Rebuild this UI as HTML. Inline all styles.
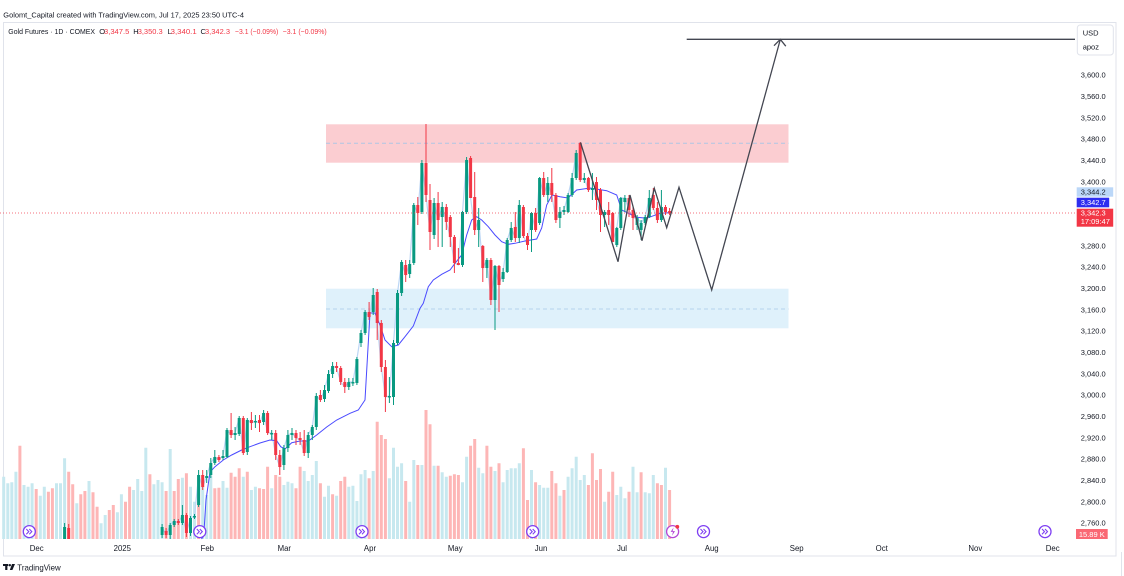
<!DOCTYPE html>
<html><head><meta charset="utf-8"><style>
html,body{margin:0;padding:0;background:#fff;}
svg{display:block;font-family:"Liberation Sans",sans-serif;}
</style></head><body>
<svg width="1124" height="576" viewBox="0 0 1124 576" xmlns="http://www.w3.org/2000/svg">
<rect width="1124" height="576" fill="#fff"/>
<!-- header -->
<text x="3.3" y="17.5" font-size="7.5" fill="#131722" textLength="240.7" lengthAdjust="spacingAndGlyphs">Golomt_Capital created with TradingView.com, Jul 17, 2025 23:50 UTC-4</text>
<!-- frame -->
<rect x="3.5" y="22.5" width="1112.5" height="533.5" fill="none" stroke="#e0e3eb" stroke-width="1"/>
<line x1="1121.5" y1="552" x2="1121.5" y2="576" stroke="#e0e3eb"/>
<!-- zones -->
<rect x="326" y="124.3" width="462.5" height="38.4" fill="#fbcdd1"/>
<line x1="326" y1="143.3" x2="788.5" y2="143.3" stroke="#aec6e4" stroke-width="1" stroke-dasharray="4 3"/>
<rect x="326" y="288.7" width="462.5" height="39.6" fill="#dff1fb"/>
<line x1="326" y1="309" x2="788.5" y2="309" stroke="#b4d3ee" stroke-width="1" stroke-dasharray="4 3"/>
<!-- volume -->
<path fill="none" stroke="#c7e8ef" stroke-width="3" d="M3.7 539V476.7M7.8 539V483.3M11.8 539V482.3M15.9 539V471.7M24 539V485M28.1 539V486.7M32.1 539V483.3M40.3 539V495.7M44.3 539V486.7M56.5 539V483.3M60.5 539V483.3M64.6 539V458.3M76.8 539V503.3M89 539V481M101.1 539V523.3M105.2 539V515M117.4 539V512.3M121.4 539V494.3M133.6 539V490M137.7 539V479M141.8 539V491M145.8 539V447.7M153.9 539V484.3M158 539V480M162.1 539V482.3M170.2 539V449M182.4 539V477.7M190.5 539V486.7M194.5 539V501.7M202.7 539V486.7M206.7 539V495M210.8 539V475.7M223 539V481M227 539V487.7M243.3 539V476.7M251.4 539V490M255.4 539V486.7M271.7 539V488.3M283.9 539V485M287.9 539V481.7M292 539V483.3M304.2 539V471M308.2 539V481M312.3 539V475M316.3 539V461M324.5 539V496.7M328.5 539V485.7M336.6 539V495.7M348.8 539V486.7M352.9 539V485.7M356.9 539V501M361 539V474.3M365.1 539V470M373.2 539V471M389.4 539V478.3M393.5 539V447.7M397.5 539V466.7M401.6 539V463.3M409.7 539V501.7M413.8 539V460M421.9 539V465M434.1 539V465.7M442.2 539V472.3M446.3 539V476.7M462.5 539V482.3M466.6 539V456.7M478.7 539V467.7M482.8 539V473.3M495 539V471M503.1 539V482.3M507.2 539V470M511.2 539V468.3M515.3 539V468.3M519.3 539V463.3M531.5 539V470M539.6 539V485M543.7 539V487.7M547.8 539V487.7M559.9 539V495.7M568.1 539V476.7M572.1 539V468.3M576.2 539V456.7M580.2 539V480M584.3 539V475M604.6 539V501.7M616.8 539V495M620.8 539V486.7M624.9 539V498.3M633 539V466.7M637.1 539V492.3M645.2 539V492.3M649.3 539V493.3M653.3 539V475M665.5 539V467.7"/>
<path fill="none" stroke="#fdb6b6" stroke-width="3" d="M19.9 539V445.7M36.2 539V489M48.4 539V491.7M52.4 539V488.3M68.7 539V471.7M72.7 539V484.3M80.8 539V494.3M84.9 539V491M93 539V492.3M97.1 539V506.7M109.3 539V510M113.3 539V505M125.5 539V501.7M129.6 539V486.7M149.9 539V474.3M166.1 539V491M174.2 539V491M178.3 539V479M186.4 539V473.3M198.6 539V475M214.8 539V488.3M218.9 539V487.7M231.1 539V472.7M235.1 539V476.7M239.2 539V468.3M247.3 539V471.7M259.5 539V488.3M263.6 539V489M267.6 539V466.7M275.7 539V475M279.8 539V476.7M296 539V488.3M300.1 539V466.7M320.4 539V483.3M332.6 539V494.3M340.7 539V481M344.8 539V476.7M369.1 539V478.3M377.2 539V421.7M381.3 539V435M385.4 539V439M405.7 539V481M417.8 539V465M426 539V410M430 539V424.3M438.1 539V465.7M450.3 539V475.7M454.4 539V474.3M458.4 539V475M470.6 539V445.7M474.7 539V439M486.9 539V445.7M490.9 539V466.7M499 539V463.3M523.4 539V448.3M527.5 539V500M535.6 539V482.3M551.8 539V471M555.9 539V483.3M564 539V490M588.4 539V485M592.4 539V453.3M596.5 539V480M600.5 539V469M608.7 539V491.7M612.7 539V471.7M629 539V491.7M641.1 539V472.3M657.4 539V483.3M661.4 539V485M669.6 539V490"/>
<!-- close line (faint) -->
<polyline fill="none" stroke="#bcd6f5" stroke-width="1.2" points="162.1,527 166.1,535 170.2,525 174.2,521 178.3,523 182.4,515 186.4,533 190.5,518 194.5,516 198.6,475 202.7,487 206.7,476 210.8,463 214.8,457 218.9,460 223,456 227,430 231.1,435 235.1,433 239.2,418 243.3,453 247.3,420 251.4,423 255.4,421 259.5,423 263.6,413 267.6,433 271.7,433 275.7,455 279.8,467 283.9,448 287.9,435 292,433 296,438 300.1,440 304.2,453 308.2,435 312.3,427 316.3,396 320.4,400 324.5,390 328.5,374 332.6,366 336.6,368 340.7,382 344.8,387 348.8,382 352.9,382 356.9,359 361,333 365.1,312 369.1,317 373.2,295 377.2,323 381.3,367 385.4,397 389.4,396 393.5,343 397.5,293 401.6,262 405.7,275 409.7,264 413.8,205 417.8,213 421.9,163 426,195 430,232 434.1,203 438.1,220 442.2,207 446.3,222 450.3,237 454.4,263 458.4,265 462.5,212 466.6,160 470.6,198 474.7,230 478.7,220 482.8,268 486.9,260 490.9,300 495,266 499,285 503.1,272 507.2,240 511.2,228 515.3,238 519.3,205 523.4,236 527.5,245 531.5,213 535.6,230 539.6,178 543.7,195 547.8,183 551.8,195 555.9,220 559.9,212 564,210 568.1,195 572.1,178 576.2,153 580.2,180 584.3,178 588.4,190 592.4,188 596.5,200 600.5,215 604.6,212 608.7,215 612.7,242 616.8,228 620.8,198 624.9,198 629,210 633,218 637.1,218 641.1,223 645.2,217 649.3,198 653.3,208 657.4,220 661.4,207 665.5,212 669.6,213.5"/>
<!-- MA -->
<polyline fill="none" stroke="#4a4aff" stroke-width="1" points="201.5,539 203.7,536 206,500 210,472 215,466.7 223.3,460 231.7,455 241.7,450 250,446.7 260,443 270,440 276.7,440.7 280.7,446.7 285,449 291.7,442.7 300,441 308.3,441 316.7,435 326.7,427 336.7,420 350,413.3 358.3,410 365,400 370,313 375,313 380,325 385,340 391.7,346.7 398.3,345 405,336.7 413.3,326 420,308.3 423.3,303.3 428.3,286.7 433.3,280 441.7,274.3 450,270 455,263.3 461.7,255 466.7,235 471.7,220 476.7,216.7 481.7,220 488.3,226.7 495,235 501.7,241.7 508.3,244.3 515,243.3 525,241 536.7,239 541.7,228 546.7,205 552,195 560,196.7 568,198 576.7,190 590,188 606.7,190.7 616.7,195 621.7,210 636.7,217.3 646.7,218.3 660,213.3 670,212.7"/>
<!-- candles green -->
<path fill="none" stroke="#089981" stroke-width="1" d="M64.6 523V539M162.1 524V538M170.2 523V539M174.2 519V527M182.4 505V525M190.5 516V536M194.5 514V519M198.6 470V507M206.7 470V483M210.8 458V478M214.8 450V465M223 450V460M227 428V458M235.1 427V440M239.2 416V436M247.3 418V455M255.4 415V428M263.6 410V425M271.7 430V440M283.9 445V470M287.9 430V452M292 428V440M308.2 432V458M312.3 425V440M316.3 393V430M324.5 385V402M328.5 370V393M332.6 362V378M348.8 378V390M352.9 378V386M356.9 357V385M361 330V347M365.1 310V335M373.2 288V315M389.4 377V403M393.5 340V405M397.5 290V345M401.6 260V296M409.7 260V278M413.8 203V265M421.9 160V214M434.1 198V239M442.2 202V247M462.5 211V267M466.6 157V214M478.7 208V247M486.9 258V278M495 265V330M503.1 268V282M507.2 238V273M511.2 222V242M519.3 200V243M531.5 212V252M539.6 177V225M547.8 177V202M559.9 207V228M564 206V215M568.1 193V213M572.1 173V197M576.2 150V180M584.3 173V183M592.4 173V200M604.6 210V227M616.8 227V247M620.8 197V230M624.9 195V212M637.1 215V230M641.1 220V240M645.2 215V225M649.3 190V218M661.4 190V222"/>
<path fill="none" stroke="#089981" stroke-width="3" d="M64.6 527V539M162.1 527V535M170.2 525V535M174.2 521V525M182.4 515V523M190.5 518V533M194.5 516V517.5M198.6 475V505M206.7 476V478M210.8 463V475M214.8 457V463M223 456V458M227 430V457M235.1 433V435M239.2 418V434M247.3 420V452M255.4 421V422.5M263.6 413V422M271.7 433V434.5M283.9 448V465M287.9 435V448M292 433V435M308.2 435V453M312.3 427V435M316.3 396V427M324.5 390V399M328.5 374V391M332.6 366V374M348.8 382V387M352.9 382V383.5M356.9 359V383M361 333V343M365.1 312V333M373.2 295V312M389.4 396V397.5M393.5 343V397M397.5 293V343M401.6 262V293M409.7 264V274M413.8 205V263M421.9 163V212M434.1 203V235M442.2 207V217M462.5 212V265M466.6 160V212M478.7 220V230M486.9 260V268M495 266V300M503.1 272V279M507.2 240V272M511.2 228V240M519.3 205V238M531.5 213V230M539.6 178V223M547.8 183V195M559.9 212V218M564 210V212M568.1 195V212M572.1 178V195M576.2 153V178M584.3 178V180M592.4 188V190M604.6 212V215M616.8 228V245M620.8 198V228M624.9 198V202M637.1 218V225M641.1 223V230M645.2 217V223M649.3 198V217M661.4 207V220"/>
<!-- candles red -->
<path fill="none" stroke="#f23645" stroke-width="1" d="M68.7 524V539M166.1 528V538M178.3 519V525M186.4 513V537M202.7 470V490M218.9 455V462M231.1 413V438M243.3 416V455M251.4 412V430M259.5 415V432M267.6 411V435M275.7 430V460M279.8 450V475M296 430V445M300.1 432V445M304.2 430V456M320.4 390V402M336.6 362V372M340.7 366V385M344.8 378V393M369.1 302V320M377.2 289V340M381.3 320V372M385.4 360V412M405.7 260V282M417.8 197V225M426 124V202M430 184V250M438.1 192V247M446.3 204V230M450.3 215V247M454.4 235V273M458.4 248V265M470.6 156V198M474.7 172V235M482.8 245V282M490.9 258V305M499 265V312M515.3 212V242M523.4 205V238M527.5 233V250M535.6 208V232M543.7 172V197M551.8 168V202M555.9 193V223M580.2 142V182M588.4 177V192M596.5 177V210M600.5 188V232M608.7 202V225M612.7 212V242M629 195V217M633 207V230M653.3 188V210M657.4 202V223M665.5 205V215M669.6 208V215"/>
<path fill="none" stroke="#f23645" stroke-width="3" d="M68.7 528V539M166.1 531V535M178.3 521V523M186.4 515V533M202.7 475V487M218.9 457V460M231.1 430V435M243.3 418V453M251.4 420V423M259.5 420V423M267.6 413V433M275.7 433V455M279.8 455V467M296 433V438M300.1 438V440M304.2 440V453M320.4 395V400M336.6 366V368M340.7 368V382M344.8 382V387M369.1 312V317M377.2 292V323M381.3 323V367M385.4 367V397M405.7 265V275M417.8 205V213M426 163V195M430 200V232M438.1 203V220M446.3 207V222M450.3 217V237M454.4 237V263M458.4 263V265M470.6 158V198M474.7 197V230M482.8 246V268M490.9 260V300M499 266V285M515.3 227V238M523.4 207V236M527.5 236V245M535.6 213V230M543.7 178V195M551.8 183V195M555.9 195V220M580.2 143V180M588.4 178V190M596.5 182V200M600.5 190V215M608.7 210V215M612.7 213V242M629 198V210M633 210V218M653.3 195V208M657.4 208V220M665.5 207V212M669.6 211V213.5"/>
<!-- price line -->
<line x1="0" y1="213" x2="1076" y2="213" stroke="#f23645" stroke-width="1" stroke-dasharray="1 2" opacity="0.7"/>
<!-- projection path -->
<polyline fill="none" stroke="#434651" stroke-width="1.3" stroke-linejoin="miter" points="580.5,142.5 618,261.7 630,195 642,240.7 654.3,188.3 666.7,227.7 679,187.3 711.7,290 780.3,39.5"/>
<path fill="none" stroke="#434651" stroke-width="1.3" d="M774 45.7L780.3 39.3L785.8 46.2"/>
<line x1="686.7" y1="39.3" x2="1075" y2="39.3" stroke="#434651" stroke-width="1.3"/>
<!-- event icons -->
<g fill="#fff" stroke="#7e3ff2" stroke-width="1.3">
<circle cx="29.3" cy="531.6" r="6"/><circle cx="199.8" cy="531.6" r="6"/><circle cx="362" cy="531.6" r="6"/><circle cx="532.7" cy="531.6" r="6"/><circle cx="703.5" cy="531.6" r="6"/><circle cx="1045" cy="531.6" r="6"/>
</g>
<g fill="none" stroke="#7e3ff2" stroke-width="1.1">
<path d="M26.3 529l2.5 2.6-2.5 2.6M29.3 529l2.5 2.6-2.5 2.6"/>
<path d="M196.8 529l2.5 2.6-2.5 2.6M199.8 529l2.5 2.6-2.5 2.6"/>
<path d="M359 529l2.5 2.6-2.5 2.6M362 529l2.5 2.6-2.5 2.6"/>
<path d="M529.7 529l2.5 2.6-2.5 2.6M532.7 529l2.5 2.6-2.5 2.6"/>
<path d="M700.5 529l2.5 2.6-2.5 2.6M703.5 529l2.5 2.6-2.5 2.6"/>
<path d="M1042 529l2.5 2.6-2.5 2.6M1045 529l2.5 2.6-2.5 2.6"/>
</g>
<circle cx="672.6" cy="531.6" r="6" fill="#fff" stroke="#b546d6" stroke-width="1.3"/>
<path d="M673.6 527.5l-3 4.4h2.4l-1 3.8 3-4.6h-2.4z" fill="#b546d6"/>
<circle cx="677.3" cy="526.8" r="1.9" fill="#f23645"/>
<!-- price axis -->
<rect x="1077.3" y="25" width="36" height="30" rx="3" fill="#fff" stroke="#e0e3eb"/>
<text x="1082.7" y="35.3" font-size="7.5" fill="#131722">USD</text>
<text x="1082.7" y="49.3" font-size="7.5" fill="#131722">apoz</text>
<g font-size="7.5" fill="#131722">
<text x="1080.7" y="77.7">3,600.0</text>
<text x="1080.7" y="99">3,560.0</text>
<text x="1080.7" y="120.4">3,520.0</text>
<text x="1080.7" y="141.7">3,480.0</text>
<text x="1080.7" y="163">3,440.0</text>
<text x="1080.7" y="184.4">3,400.0</text>
<text x="1080.7" y="248.4">3,280.0</text>
<text x="1080.7" y="269.7">3,240.0</text>
<text x="1080.7" y="291">3,200.0</text>
<text x="1080.7" y="312.4">3,160.0</text>
<text x="1080.7" y="333.7">3,120.0</text>
<text x="1080.7" y="355">3,080.0</text>
<text x="1080.7" y="376.4">3,040.0</text>
<text x="1080.7" y="397.7">3,000.0</text>
<text x="1080.7" y="419">2,960.0</text>
<text x="1080.7" y="440.4">2,920.0</text>
<text x="1080.7" y="461.7">2,880.0</text>
<text x="1080.7" y="483">2,840.0</text>
<text x="1080.7" y="504.4">2,800.0</text>
<text x="1080.7" y="525.7">2,760.0</text>
</g>
<rect x="1076.7" y="187.3" width="36.5" height="9.4" fill="#bbd7f8"/>
<text x="1080.7" y="194.7" font-size="7.5" fill="#131722">3,344.2</text>
<rect x="1076.7" y="197.7" width="32.5" height="9.6" fill="#2e2ef0"/>
<text x="1080.7" y="205.2" font-size="7.5" fill="#fff">3,342.7</text>
<rect x="1076.7" y="208.7" width="36.5" height="18" fill="#f23645"/>
<text x="1080.7" y="215.4" font-size="7.5" fill="#fff">3,342.3</text>
<text x="1080.7" y="224" font-size="7.5" fill="#fff">17:09:47</text>
<rect x="1076" y="529" width="31.7" height="10" fill="#fa6874"/>
<text x="1091.8" y="536.8" font-size="7.5" fill="#fff" text-anchor="middle">15.89 K</text>
<!-- time axis -->
<g font-size="7.8" fill="#131722" text-anchor="middle">
<text x="36.7" y="551">Dec</text>
<text x="122.3" y="551">2025</text>
<text x="207.3" y="551">Feb</text>
<text x="284.3" y="551">Mar</text>
<text x="370" y="551">Apr</text>
<text x="455.3" y="551">May</text>
<text x="541" y="551">Jun</text>
<text x="622" y="551">Jul</text>
<text x="711.7" y="551">Aug</text>
<text x="796.7" y="551">Sep</text>
<text x="881.7" y="551">Oct</text>
<text x="975.3" y="551">Nov</text>
<text x="1052.7" y="551">Dec</text>
</g>
<!-- legend -->
<g font-size="7.5">
<text x="8.3" y="33.8" fill="#131722" textLength="86.7" lengthAdjust="spacingAndGlyphs">Gold Futures · 1D · COMEX</text>
<text x="99.3" y="33.8" fill="#131722">O</text>
<text x="104" y="33.8" fill="#f23645" textLength="25.3" lengthAdjust="spacingAndGlyphs">3,347.5</text>
<text x="133.3" y="33.8" fill="#131722">H</text>
<text x="137.7" y="33.8" fill="#f23645" textLength="25" lengthAdjust="spacingAndGlyphs">3,350.3</text>
<text x="167.5" y="33.8" fill="#131722">L</text>
<text x="170.7" y="33.8" fill="#f23645" textLength="26" lengthAdjust="spacingAndGlyphs">3,340.1</text>
<text x="200.5" y="33.8" fill="#131722">C</text>
<text x="205" y="33.8" fill="#f23645" textLength="25" lengthAdjust="spacingAndGlyphs">3,342.3</text>
<text x="235" y="33.8" fill="#f23645" textLength="43.3" lengthAdjust="spacingAndGlyphs">−3.1 (−0.09%)</text>
<text x="282.7" y="33.8" fill="#f23645" textLength="44" lengthAdjust="spacingAndGlyphs">−3.1 (−0.09%)</text>
</g>
<!-- TradingView logo -->
<g fill="#131722">
<rect x="3" y="564" width="5.2" height="2"/>
<rect x="5.2" y="564" width="2.2" height="6"/>
<circle cx="9.8" cy="565.2" r="1.2"/>
<path d="M12 564h3l-2.6 6h-2.6z"/>
</g>
<text x="17.3" y="570.3" font-size="8.5" fill="#131722" textLength="43.4" lengthAdjust="spacingAndGlyphs">TradingView</text>
</svg>
</body></html>
